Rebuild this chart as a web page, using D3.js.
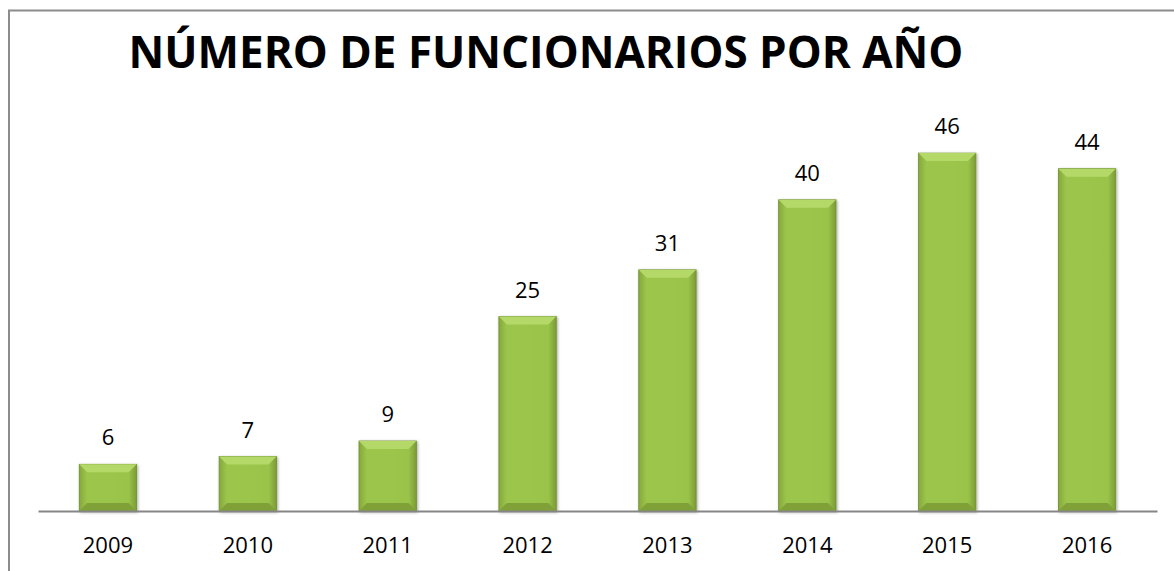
<!DOCTYPE html>
<html>
<head>
<meta charset="utf-8">
<script src="https://cdn.jsdelivr.net/npm/d3@7"></script>
<style>
  body { margin: 0; background: #fff; }
  svg { display: block; }
</style>
</head>
<body>
<div id="chart"></div>
<script>
// chart values
var years = ["2009", "2010", "2011", "2012", "2013", "2014", "2015", "2016"];
var funcionarios = [6, 7, 9, 25, 31, 40, 46, 44];
var titleText = "NÚMERO DE FUNCIONARIOS POR AÑO";

function init() {
    var w = 1174, h = 571;
    var left = 38, right = 1157, baseY = 511, topY = 122;
    var bev = 8; // bevel size

    var data = years.map((y, i) => ({ year: y, value: funcionarios[i] }));

    var svg = d3.select("#chart").append("svg")
        .attr("width", w)
        .attr("height", h);

    var defs = svg.append("defs");
    var grad = defs.append("linearGradient").attr("id", "barGrad")
        .attr("x1", "0").attr("x2", "1").attr("y1", "0").attr("y2", "0");
    grad.append("stop").attr("offset", "0%").attr("stop-color", "#86a83c");
    grad.append("stop").attr("offset", "14%").attr("stop-color", "#9cc64c");
    grad.append("stop").attr("offset", "86%").attr("stop-color", "#9ac44a");
    grad.append("stop").attr("offset", "100%").attr("stop-color", "#7c9b35");

    var filt = defs.append("filter").attr("id", "shadow")
        .attr("x", "-10%").attr("y", "-10%").attr("width", "130%").attr("height", "130%");
    filt.append("feDropShadow").attr("dx", 1).attr("dy", 1).attr("stdDeviation", 1.5)
        .attr("flood-color", "#000").attr("flood-opacity", 0.35);

    // outer frame (top and left visible)
    svg.append("path")
        .attr("d", `M9,${h} L9,10.5 L${w},10.5`)
        .attr("fill", "none")
        .attr("stroke", "#8c8c8c")
        .attr("stroke-width", 2);

    var x = d3.scaleBand()
        .domain(years)
        .range([left, right])
        .paddingInner(0.59)
        .paddingOuter(0.295);

    var y = d3.scaleLinear()
        .domain([0, 50])
        .range([baseY, topY]);

    // title
    svg.append("text")
        .attr("x", 546)
        .attr("y", 68)
        .attr("text-anchor", "middle")
        .style("font-family", "'Open Sans', 'Noto Sans', sans-serif")
        .style("font-weight", "bold")
        .style("font-size", "44px")
        .attr("fill", "#000")
        .text(titleText);

    var bars = svg.selectAll(".bar")
        .data(data)
        .enter()
        .append("g")
        .attr("class", "bar");

    bars.append("rect")
        .attr("x", d => x(d.year))
        .attr("y", d => y(d.value))
        .attr("width", x.bandwidth())
        .attr("height", d => baseY - y(d.value))
        .attr("fill", "url(#barGrad)")
        .attr("stroke", "#6f8f2e")
        .attr("stroke-width", 0.8)
        .attr("filter", "url(#shadow)");

    // top bevel
    bars.append("path")
        .attr("d", d => {
            var x0 = x(d.year), x1 = x0 + x.bandwidth(), t = y(d.value);
            return `M${x0},${t} L${x1},${t} L${x1 - bev},${t + bev} L${x0 + bev},${t + bev} Z`;
        })
        .attr("fill", "#b4d968");

    // bottom bevel
    bars.append("path")
        .attr("d", d => {
            var x0 = x(d.year), x1 = x0 + x.bandwidth();
            return `M${x0},${baseY} L${x1},${baseY} L${x1 - bev},${baseY - bev} L${x0 + bev},${baseY - bev} Z`;
        })
        .attr("fill", "#80a038");

    // value labels
    svg.selectAll(".val")
        .data(data)
        .enter()
        .append("text")
        .attr("class", "val")
        .attr("x", d => x(d.year) + x.bandwidth() / 2)
        .attr("y", d => y(d.value) - 19)
        .attr("text-anchor", "middle")
        .style("font-family", "'Open Sans', 'Noto Sans', sans-serif")
        .style("font-size", "22px")
        .attr("fill", "#000")
        .text(d => d.value);

    // x axis
    var xAxis = svg.append("g")
        .attr("transform", `translate(0,${baseY})`)
        .call(d3.axisBottom(x).tickSize(0).tickPadding(26));
    xAxis.select(".domain").attr("stroke", "#868686").attr("stroke-width", 2);
    xAxis.selectAll("text")
        .style("font-family", "'Open Sans', 'Noto Sans', sans-serif")
        .style("font-size", "22px")
        .attr("fill", "#000");
}

window.onload = init;
</script>
</body>
</html>
